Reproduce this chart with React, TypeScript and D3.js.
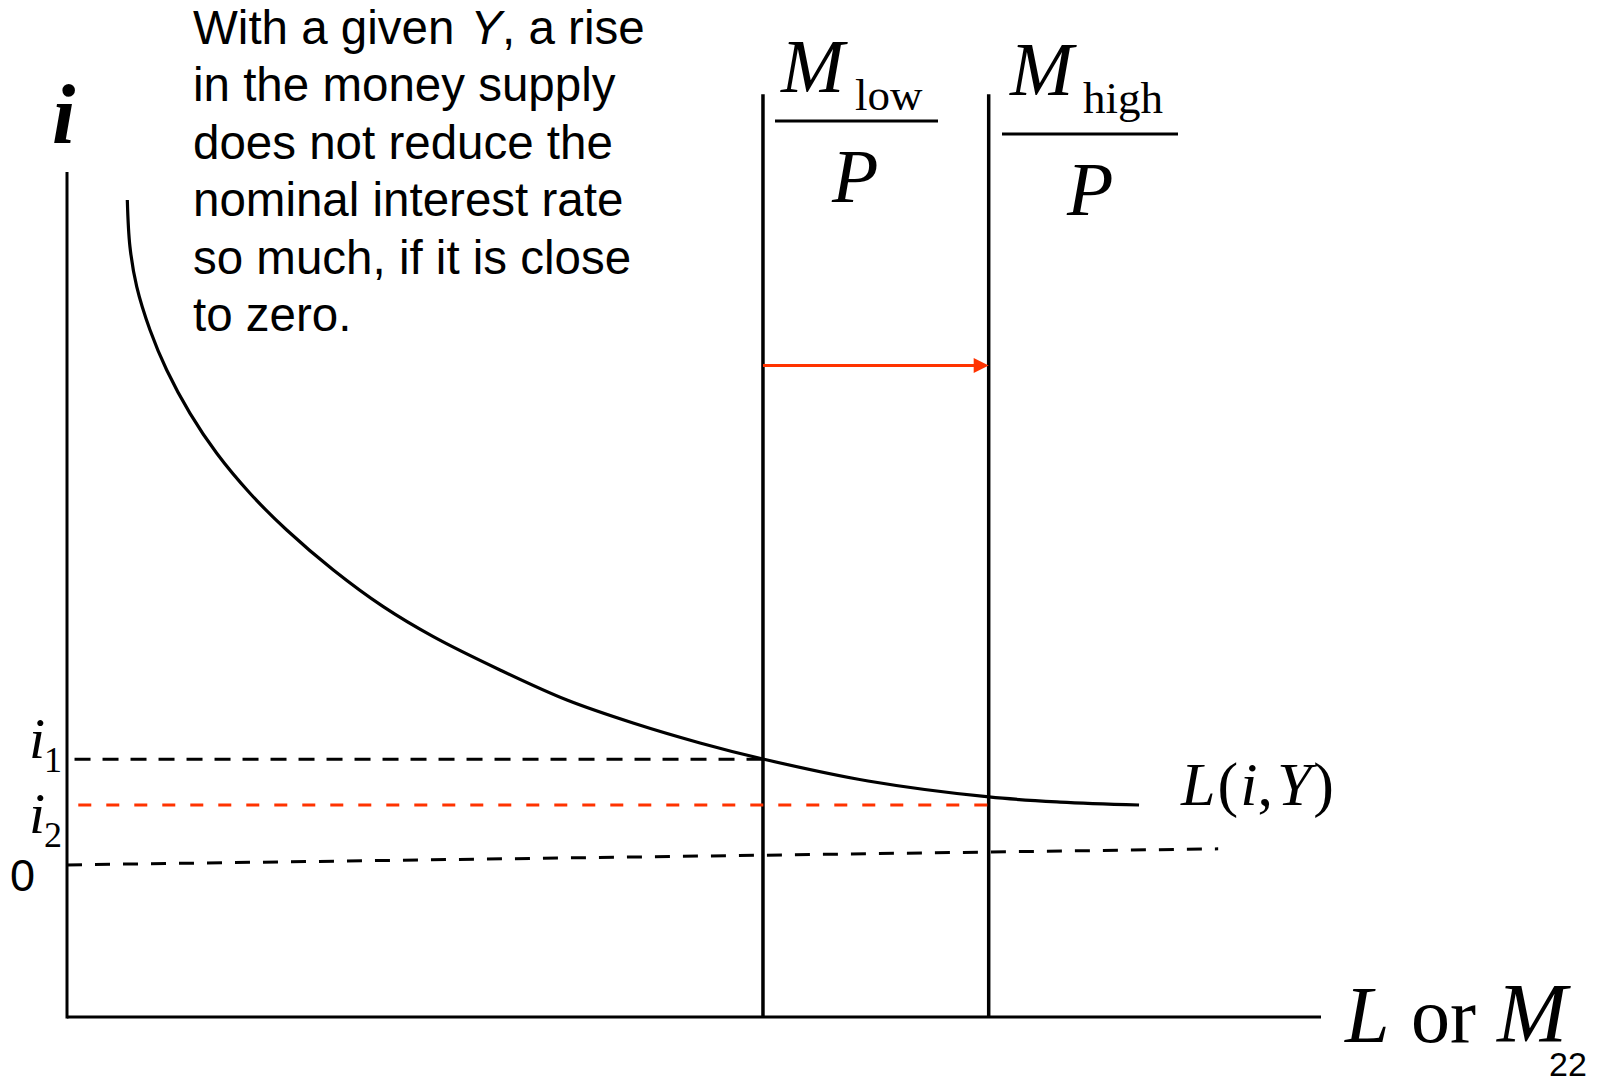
import React from "react";
import * as d3 from "d3";

// ---- Data (abstract units: x = quantity of money, y = interest rate) ----
const W = 1602;
const H = 1078;

// Liquidity demand curve L(i,Y): [quantity, interest]
const demandQ = [0.481, 0.502, 0.556, 0.662, 0.795, 0.981, 1.194, 1.459, 1.752, 2.124, 2.522, 2.921, 3.453, 3.987, 4.514, 5.048, 5.55, 6.388, 7.352, 7.919, 8.549];
const demandI = [9.669, 9.116, 8.643, 8.13, 7.657, 7.144, 6.671, 6.198, 5.763, 5.29, 4.856, 4.501, 4.107, 3.751, 3.479, 3.243, 3.053, 2.793, 2.604, 2.544, 2.509];

// Money supply levels
const supplyNames = ["low", "high"];
const supplyQ = [5.55, 7.35];
const supplyTop = 10.92;

// Interest rates
const rateNames = ["1", "2"];
const rateValues = [3.05, 2.51];
const rateStart = [0.06, 0.09];

// Zero line (slightly askew in the original)
const zeroLineQ = [0, 9.18];
const zeroLineI = [1.8, 1.99];

const arrowI = 7.71;

const noteLines = [
  "in the money supply",
  "does not reduce the",
  "nominal interest rate",
  "so much, if it is close",
  "to zero.",
];

const RED = "#ff3300";
const SERIF = "'Liberation Serif', 'Times New Roman', serif";
const SANS = "'Liberation Sans', Arial, sans-serif";

export default function App() {
  const x = d3.scaleLinear().domain([0, 10]).range([67, 1321]);
  const y = d3.scaleLinear().domain([0, 10]).range([1017, 172]);

  const curve = d3
    .line<number>()
    .x((_, k) => x(demandQ[k]))
    .y((_, k) => y(demandI[k]))
    .curve(d3.curveCatmullRom.alpha(0.5))(demandQ);

  const zeroPath = d3
    .line<number>()
    .x((_, k) => x(zeroLineQ[k]))
    .y((_, k) => y(zeroLineI[k]))(zeroLineQ);

  const ax = x(supplyQ[0]);
  const bx = x(supplyQ[1]);
  const ay = y(arrowI);

  // fraction label layout per supply line
  const mLabel = [
    { mx: 781, mb: 92, sx: 855, sb: 110, l1: 775, l2: 938, ly: 121, px: 832, pb: 202 },
    { mx: 1010, mb: 95, sx: 1083, sb: 113, l1: 1002, l2: 1178, ly: 134, px: 1067, pb: 215 },
  ];

  return (
    <svg
      width={W}
      height={H}
      style={{ position: "absolute", left: 0, top: 0, background: "#fff" }}
    >
      <rect width={W} height={H} fill="#fff" />

      {/* axes */}
      <line x1={x(0)} y1={y(10)} x2={x(0)} y2={y(0) + 1.5} stroke="#000" strokeWidth={3} />
      <line x1={x(0)} y1={y(0)} x2={x(10)} y2={y(0)} stroke="#000" strokeWidth={3} />

      {/* money supply verticals */}
      {supplyQ.map((q, k) => (
        <line key={k} x1={x(q)} y1={y(supplyTop)} x2={x(q)} y2={y(0)} stroke="#000" strokeWidth={3.5} />
      ))}

      {/* interest-rate dashed lines */}
      <line
        x1={x(rateStart[0])}
        y1={y(rateValues[0])}
        x2={x(supplyQ[0])}
        y2={y(rateValues[0])}
        stroke="#000"
        strokeWidth={3}
        strokeDasharray="16 12"
      />
      <line
        x1={x(rateStart[1])}
        y1={y(rateValues[1])}
        x2={x(supplyQ[1])}
        y2={y(rateValues[1])}
        stroke={RED}
        strokeWidth={3}
        strokeDasharray="13 15"
      />
      <path d={zeroPath || ""} fill="none" stroke="#000" strokeWidth={3} strokeDasharray="15 13" />

      {/* demand curve */}
      <path d={curve || ""} fill="none" stroke="#000" strokeWidth={3.2} />

      {/* arrow */}
      <line x1={ax} y1={ay} x2={bx - 14} y2={ay} stroke={RED} strokeWidth={3.2} />
      <path d={`M${bx - 15},${ay - 7.5}L${bx},${ay}L${bx - 15},${ay + 7.5}Z`} fill={RED} />

      {/* axis labels */}
      <text x={52} y={143} fontFamily={SERIF} fontStyle="italic" fontWeight="bold" fontSize={84}>
        i
      </text>
      <text x={1345} y={1042} fontFamily={SERIF} fontStyle="italic" fontSize={80}>
        L
      </text>
      <text x={1411} y={1042} fontFamily={SERIF} fontSize={78}>
        or
      </text>
      <text x={1497} y={1042} fontFamily={SERIF} fontStyle="italic" fontSize={84}>
        M
      </text>
      <text x={1549} y={1076} fontFamily={SANS} fontSize={34}>
        22
      </text>

      {/* rate labels */}
      {rateNames.map((n, k) => {
        const base = y(rateValues[k]) + (k === 0 ? -1 : 28);
        return (
          <g key={n}>
            <text x={29} y={base} fontFamily={SERIF} fontStyle="italic" fontSize={58}>
              i
            </text>
            <text x={44} y={base + 14} fontFamily={SERIF} fontSize={36}>
              {n}
            </text>
          </g>
        );
      })}
      <text x={10} y={891} fontFamily={SANS} fontSize={45}>
        0
      </text>

      {/* L(i,Y) label */}
      <text x={1181} y={805} fontFamily={SERIF} fontSize={62}>
        <tspan fontStyle="italic">L</tspan>
        <tspan dx={2}>(</tspan>
        <tspan dx={2} fontStyle="italic">i</tspan>
        <tspan>,</tspan>
        <tspan dx={4} fontStyle="italic">Y</tspan>
        <tspan dx={2}>)</tspan>
      </text>

      {/* M/P labels */}
      {supplyNames.map((n, k) => {
        const m = mLabel[k];
        return (
          <g key={n}>
            <text x={m.mx} y={m.mb} fontFamily={SERIF} fontStyle="italic" fontSize={76}>
              M
            </text>
            <text x={m.sx} y={m.sb} fontFamily={SERIF} fontSize={45}>
              {n}
            </text>
            <line x1={m.l1} y1={m.ly} x2={m.l2} y2={m.ly} stroke="#000" strokeWidth={3} />
            <text x={m.px} y={m.pb} fontFamily={SERIF} fontStyle="italic" fontSize={76}>
              P
            </text>
          </g>
        );
      })}

      {/* annotation */}
      <g fontFamily={SANS} fontSize={47.5}>
        <text x={193} y={43.5}>
          With a given
          <tspan dx={16} fontStyle="italic">Y</tspan>
          <tspan>, a rise</tspan>
        </text>
        {noteLines.map((t, k) => (
          <text key={k} x={193} y={43.5 + 57.5 * (k + 1)}>
            {t}
          </text>
        ))}
      </g>
    </svg>
  );
}
